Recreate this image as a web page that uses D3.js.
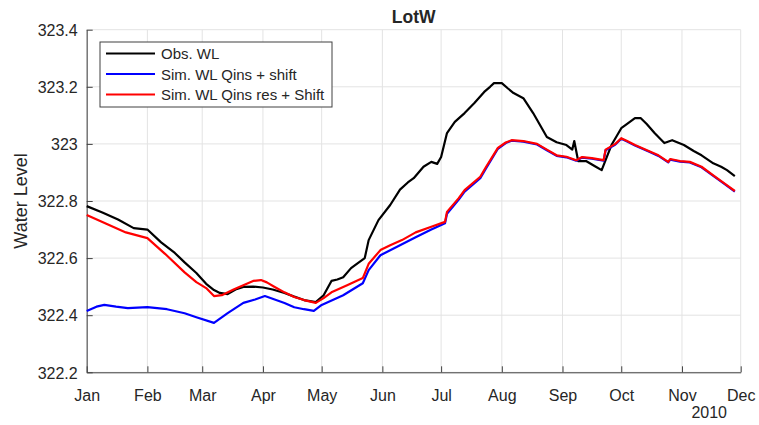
<!DOCTYPE html>
<html>
<head>
<meta charset="utf-8">
<script src="https://cdn.jsdelivr.net/npm/d3@7"></script>
<style>
  body { margin: 0; background: #fff; }
  text { font-family: "Liberation Sans", Arial, sans-serif; fill: #262626; }
</style>
</head>
<body>
<script>
// days counted from 1 Jan 2010
var obsDays = [0, 8, 16, 24, 31, 38, 45, 50, 56, 61, 65, 68, 72, 76, 80, 85, 90, 95, 101, 106, 111, 117, 121, 125, 128, 131, 135, 139, 142, 144, 149, 155, 160, 164, 167, 172, 176, 179, 181, 184, 188, 193, 198, 203, 206, 208, 212, 215, 218, 223, 228, 235, 240, 245, 248, 249, 251, 255, 260, 263, 265, 268, 273, 276, 280, 283, 286, 290, 295, 299, 305, 310, 314, 320, 324, 327, 331];
var obsValues = [322.782, 322.76, 322.735, 322.705, 322.70, 322.655, 322.618, 322.585, 322.548, 322.51, 322.488, 322.478, 322.474, 322.49, 322.499, 322.50, 322.497, 322.49, 322.478, 322.465, 322.453, 322.446, 322.47, 322.52, 322.525, 322.533, 322.565, 322.585, 322.60, 322.663, 322.733, 322.786, 322.84, 322.865, 322.88, 322.92, 322.937, 322.93, 322.954, 323.038, 323.077, 323.108, 323.143, 323.182, 323.20, 323.213, 323.213, 323.195, 323.178, 323.16, 323.108, 323.024, 323.006, 322.996, 322.98, 323.01, 322.94, 322.94, 322.92, 322.908, 322.943, 322.996, 323.055, 323.07, 323.09, 323.09, 323.07, 323.038, 323.003, 323.013, 322.996, 322.975, 322.96, 322.932, 322.92, 322.908, 322.887];

var qinsDays = [0, 5, 9, 15, 21, 31, 41, 50, 56, 65, 72, 80, 86, 91, 96, 101, 106, 111, 116, 120, 131, 141, 144, 150, 160, 168, 176, 183, 184, 190, 193, 201, 204, 210, 214, 217, 223, 230, 235, 240, 245, 250, 253, 258, 264, 265, 270, 273, 276, 280, 287, 292, 297, 298, 303, 308, 314, 320, 326, 331];
var qinsValues = [322.415, 322.43, 322.436, 322.43, 322.425, 322.428, 322.421, 322.407, 322.393, 322.373, 322.407, 322.443, 322.455, 322.467, 322.455, 322.443, 322.428, 322.421, 322.415, 322.436, 322.47, 322.512, 322.558, 322.61, 322.645, 322.673, 322.70, 322.722, 322.755, 322.805, 322.833, 322.88, 322.915, 322.983, 323.003, 323.011, 323.008, 322.998, 322.978, 322.958, 322.953, 322.941, 322.952, 322.948, 322.941, 322.978, 322.998, 323.018, 323.008, 322.994, 322.973, 322.958, 322.935, 322.945, 322.938, 322.935, 322.918, 322.888, 322.858, 322.833];

var resDays = [0, 10, 20, 31, 40, 50, 56, 61, 65, 69, 75, 80, 85, 89, 92, 96, 101, 106, 111, 117, 121, 125, 133, 141, 144, 150, 155, 161, 168, 176, 183, 184, 190, 193, 201, 204, 210, 214, 217, 223, 230, 235, 240, 245, 250, 253, 258, 264, 265, 270, 273, 276, 280, 287, 292, 297, 298, 303, 308, 314, 320, 326, 331];
var resValues = [322.751, 322.72, 322.69, 322.67, 322.615, 322.55, 322.516, 322.495, 322.467, 322.47, 322.49, 322.505, 322.52, 322.523, 322.515, 322.499, 322.48, 322.464, 322.453, 322.443, 322.46, 322.48, 322.505, 322.53, 322.58, 322.628, 322.645, 322.663, 322.69, 322.71, 322.727, 322.762, 322.81, 322.838, 322.885, 322.92, 322.986, 323.005, 323.013, 323.01, 323.0, 322.98, 322.96, 322.955, 322.943, 322.954, 322.95, 322.943, 322.98, 323.0, 323.02, 323.01, 322.996, 322.975, 322.96, 322.937, 322.947, 322.94, 322.937, 322.92, 322.89, 322.86, 322.835];

var seriesNames = ['Obs. WL', 'Sim. WL Qins + shift', 'Sim. WL Qins res + Shift'];
var seriesColors = ['#000000', '#0000ff', '#ff0000'];
var yTicks = [322.2, 322.4, 322.6, 322.8, 323, 323.2, 323.4];

var start = new Date(2010, 0, 1);
var toDate = (d) => d3.timeDay.offset(start, d);

var svg = d3.select('body').append('svg')
    .attr('width', 759)
    .attr('height', 425);

var x = d3.scaleTime()
    .domain([start, new Date(2010, 11, 1)])
    .range([86.7, 740.7]);
var y = d3.scaleLinear()
    .domain([322.2, 323.4])
    .range([372.3, 29.7]);

var months = d3.timeMonth.range(start, new Date(2010, 11, 2));

// grid
svg.append('g').selectAll('line').data(months).enter().append('line')
    .attr('x1', (d) => x(d)).attr('x2', (d) => x(d))
    .attr('y1', y(322.2)).attr('y2', y(323.4))
    .attr('stroke', '#e3e3e3').attr('stroke-width', 1);
svg.append('g').selectAll('line').data(yTicks).enter().append('line')
    .attr('x1', x.range()[0]).attr('x2', x.range()[1])
    .attr('y1', (d) => y(d)).attr('y2', (d) => y(d))
    .attr('stroke', '#e3e3e3').attr('stroke-width', 1);

// axes
var xAxis = svg.append('g')
    .attr('transform', `translate(0,${y(322.2)})`)
    .call(d3.axisBottom(x).tickValues(months).tickFormat(d3.timeFormat('%b'))
        .tickSizeInner(-6).tickSizeOuter(0).tickPadding(17));
var yAxis = svg.append('g')
    .attr('transform', `translate(${x.range()[0]},0)`)
    .call(d3.axisLeft(y).tickValues(yTicks).tickFormat(d3.format('~g'))
        .tickSizeInner(-6).tickSizeOuter(0).tickPadding(9));

[xAxis, yAxis].forEach(function (a) {
    a.select('.domain').attr('stroke', '#404040');
    a.selectAll('.tick line').attr('stroke', '#404040');
    a.selectAll('.tick text')
        .attr('font-size', '16px')
        .attr('font-family', '"Liberation Sans", Arial, sans-serif')
        .attr('fill', '#262626');
});
yAxis.selectAll('.tick text').attr('dy', '0.36em');

svg.append('text')
    .attr('x', 727).attr('y', 418)
    .attr('text-anchor', 'end')
    .attr('font-size', '16px')
    .text('2010');

// title and y label
svg.append('text')
    .attr('x', (x.range()[0] + x.range()[1]) / 2).attr('y', 23)
    .attr('text-anchor', 'middle')
    .attr('font-size', '17.5px')
    .attr('font-weight', 'bold')
    .attr('fill', '#000')
    .text('LotW');

svg.append('text')
    .attr('transform', `translate(27,${(y.range()[0] + y.range()[1]) / 2}) rotate(-90)`)
    .attr('text-anchor', 'middle')
    .attr('font-size', '18px')
    .text('Water Level');

// lines
var line = d3.line()
    .x((d) => x(toDate(d[0])))
    .y((d) => y(d[1]));

var series = [
    d3.zip(obsDays, obsValues),
    d3.zip(qinsDays, qinsValues),
    d3.zip(resDays, resValues)
];

svg.append('g').selectAll('path').data(series).enter().append('path')
    .attr('d', line)
    .attr('fill', 'none')
    .attr('stroke', (d, i) => seriesColors[i])
    .attr('stroke-width', 2.2)
    .attr('stroke-linejoin', 'round');

// legend
var legend = svg.append('g').attr('transform', 'translate(100,42)');
legend.append('rect')
    .attr('width', 232).attr('height', 65)
    .attr('fill', '#fff')
    .attr('stroke', '#404040').attr('stroke-width', 1);

var items = legend.selectAll('.item').data(seriesNames).enter()
    .append('g')
    .attr('class', 'item')
    .attr('transform', (d, i) => `translate(0,${11.5 + i * 20.5})`);
items.append('line')
    .attr('x1', 6).attr('x2', 55)
    .attr('stroke', (d, i) => seriesColors[i])
    .attr('stroke-width', 2.2);
items.append('text')
    .attr('x', 61).attr('y', 5.5)
    .attr('font-size', '15px')
    .attr('fill', '#000')
    .text((d) => d);
</script>
</body>
</html>
